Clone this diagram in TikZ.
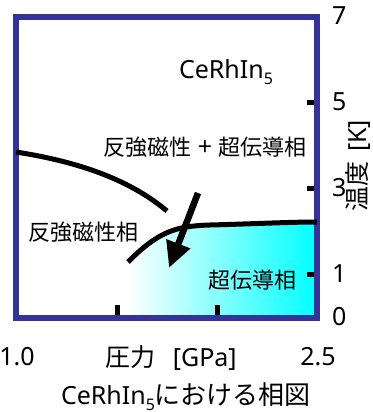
\documentclass[tikz,border=0pt]{standalone}
\usepackage{fontspec}
\setmainfont{Noto Sans}
\newfontfamily\jp{Noto Sans CJK JP}
\usetikzlibrary{arrows.meta}
\definecolor{framecol}{RGB}{51,51,153}
\newcommand\jtext[1]{{\jp\fontsize{22}{24}\selectfont #1}}
\newcommand\jbig[1]{{\jp\fontsize{25}{28}\selectfont #1}}
\newcommand\lowfive{\raisebox{-0.25em}{\fontsize{16}{16}\selectfont 5}}

\begin{document}
\begin{tikzpicture}[x=1pt,y=-1pt]
\tikzset{lbl/.style = {font=\fontsize{25}{28}\selectfont, inner sep=0pt}}
\tikzset{boundary/.style = {line width=5pt}}
\tikzset{tick/.style = {line width=5pt}}
\tikzset{edge/.style = {-{Triangle[length=26pt,width=24pt]}, line width=6.5pt}}
\useasboundingbox (0,0) rectangle (372,412);
% SHADING
\fill[left color=white, middle color=cyan!22, right color=cyan] (128,262) .. controls (158,232) and (175,226) .. (210,225) .. controls (250,224) and (290,222) .. (317,222) -- (317,318) -- (128,318) -- cycle;
% TICKS
\foreach \t in {1,3,5} \draw[tick] (307,{317-43*\t}) -- (317,{317-43*\t});
\foreach \x in {117,217} \draw[tick] (\x,305) -- (\x,318);
% FRAME
\draw[framecol, line width=6pt] (16,17) rectangle (317,318);
% NODES
\foreach \t in {0,1,3,5,7} \node[lbl, anchor=west] (t\t) at (332,{317-43*\t}) {\t};
\node[lbl] (p1) at (17,357) {1.0};
\node[lbl] (p2) at (318,357) {2.5};
\node[lbl] (pres) at (171,358) {\jbig{圧力}\hspace{.7em}[GPa]};
\node[lbl, rotate=90] (temp) at (358,166) {\jbig{温度}\hspace{.4em}[K]};
\node[lbl] (cap) at (186,397) {CeRhIn\lowfive{\jp\fontsize{26}{28}\selectfont における相図}};
\node[lbl] (chem) at (226,72) {CeRhIn\lowfive};
\node[lbl] (mixed) at (205,147) {\jtext{反強磁性} + \jtext{超伝導相}};
\node[lbl] (afm) at (83,232) {\jtext{反強磁性相}};
\node[lbl] (sc) at (252,280) {\jtext{超伝導相}};
\coordinate (afmL) at (16,152);
\coordinate (afmR) at (167,211);
\coordinate (scL) at (128,262);
\coordinate (scM) at (210,225);
\coordinate (scR) at (317,222);
\coordinate (arrS) at (198,193);
\coordinate (arrE) at (169,268);
% EDGES
\draw[boundary] (afmL) .. controls (80,162) and (130,180) .. (afmR);
\draw[boundary] (scL) .. controls (158,232) and (175,226) .. (scM) .. controls (250,224) and (290,222) .. (scR);
\draw[edge] (arrS) -- (arrE);
\end{tikzpicture}
\end{document}
